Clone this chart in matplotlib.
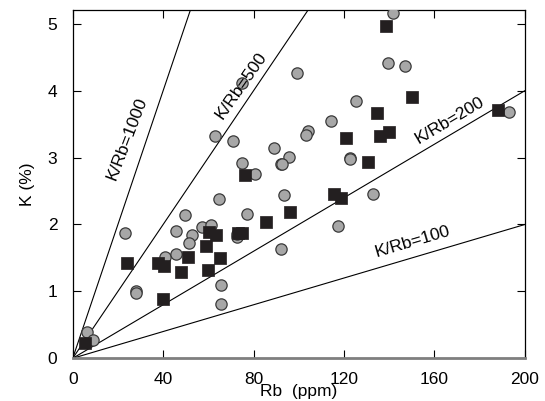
import numpy as np
import matplotlib
matplotlib.use("Agg")
import matplotlib.pyplot as plt

plt.rcParams['font.family'] = ['Liberation Sans', 'DejaVu Sans']

# ---- data ----
circle_rb = [6.2, 8.8, 23.1, 28.2, 28.2, 40.8, 45.5, 45.5, 49.6, 52.6, 51.3, 57.0, 61.0,
             64.5, 65.8, 65.4, 77.3, 72.8, 72.8, 74.7, 62.9, 70.7, 74.7, 80.5, 89.0, 92.3,
             95.7, 92.6, 99.0, 104.1, 103.4, 114.4, 125.2, 122.5, 122.8, 93.4, 92.3, 117.4,
             132.8, 139.5, 146.8, 141.7, 193.2]
circle_k = [0.40, 0.27, 1.87, 1.00, 0.97, 1.52, 1.90, 1.56, 2.14, 1.84, 1.73, 1.97, 1.99,
            2.38, 1.10, 0.81, 2.16, 1.81, 1.86, 4.12, 3.33, 3.25, 2.92, 2.75, 3.15, 2.90,
            3.01, 2.90, 4.26, 3.40, 3.34, 3.55, 3.85, 3.00, 2.98, 2.44, 1.63, 1.98,
            2.45, 4.42, 4.37, 5.16, 3.68]

square_rb = [5.4, 24.1, 37.6, 40.3, 40.1, 47.7, 51.1, 58.8, 59.9, 60.2, 63.6, 65.2, 73.2,
             74.7, 76.4, 85.7, 96.3, 115.6, 118.6, 120.8, 130.6, 134.6, 136.1, 139.9,
             138.7, 150.1, 188.0]
square_k = [0.23, 1.42, 1.43, 1.38, 0.89, 1.29, 1.52, 1.68, 1.32, 1.89, 1.84, 1.50, 1.88,
            1.88, 2.74, 2.03, 2.19, 2.45, 2.40, 3.29, 2.94, 3.66, 3.32, 3.39,
            4.97, 3.90, 3.71]

ratios = [1000, 500, 200, 100]
# label centre (Rb, K) and screen rotation for each reference line
label_pos = [(24.0, 3.29), (74.4, 4.07), (166.7, 3.55), (150.4, 1.74)]
label_rot = [69, 55, 30.6, 16.5]

fig = plt.figure(figsize=(5.45, 4.01), dpi=100)
ax = fig.add_axes([0.1334, 0.1065, 0.8296, 0.8675])

# reference lines K/Rb = const  ->  K(%) = Rb * ratio / 10000
rb_line = np.array([0, 200])
for r in ratios:
    ax.plot(rb_line, rb_line * r / 10000.0, color='black', lw=0.8, zorder=1)

ax.scatter(circle_rb, circle_k, s=66, marker='o', facecolor='#a7a7a7',
           edgecolor='#3a3a3a', linewidth=0.9, zorder=3)
ax.scatter(square_rb, square_k, s=72, marker='s', facecolor='#231f20',
           edgecolor='#231f20', linewidth=0.5, zorder=4)

for r, (x, y), rot in zip(ratios, label_pos, label_rot):
    ax.text(x, y, "K/Rb=%d" % r, rotation=rot, rotation_mode='anchor',
            ha='center', va='center', fontsize=12.5, zorder=5)

ax.set_xlim(0, 200)
ax.set_ylim(0, 5.2)
ax.set_xticks([0, 40, 80, 120, 160, 200])
ax.set_yticks([0, 1, 2, 3, 4, 5])
ax.tick_params(direction='in', length=6, width=0.8, top=True, right=True,
               labelsize=12.5)
ax.tick_params(axis='x', pad=10)
ax.tick_params(axis='y', pad=11)

for side in ['top', 'right', 'left']:
    ax.spines[side].set_linewidth(0.9)
ax.spines['bottom'].set_linewidth(2)
ax.spines['bottom'].set_color('#7f7f7f')

ax.set_xlabel("Rb  (ppm)", fontsize=12.5, labelpad=-2)
ax.set_ylabel("K (%)", fontsize=12.5, labelpad=9)

fig.savefig("out.png", dpi=100)
